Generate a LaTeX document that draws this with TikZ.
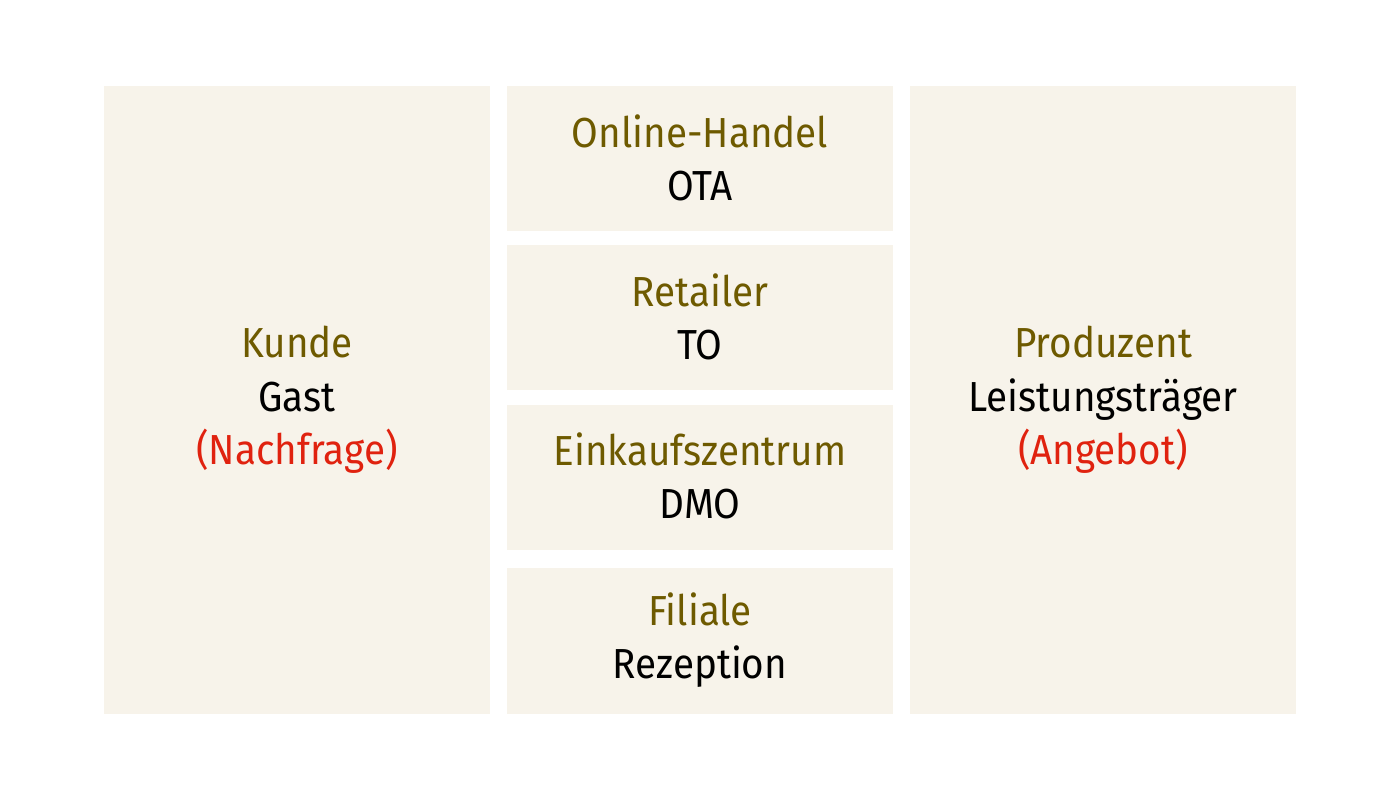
\documentclass[tikz,border=0pt]{standalone}
\usepackage{fontspec}
\setmainfont[FakeStretch=0.92]{Fira Sans}
\definecolor{boxfill}{HTML}{F7F3EA}
\definecolor{olive}{HTML}{6E5A00}
\definecolor{redtxt}{HTML}{E0220F}
\tikzset{
  panel/.style={fill=boxfill, draw=none},
  lbl/.style={align=center, font=\fontsize{42}{53.5}\selectfont, text=black, inner sep=0pt},
}
\newcommand{\ol}[1]{\textcolor{olive}{#1}}
\newcommand{\rd}[1]{\textcolor{redtxt}{#1}}
\begin{document}
\begin{tikzpicture}[x=1pt,y=-1pt]
\useasboundingbox (0,0) rectangle (1400,800);
\fill[white] (0,0) rectangle (1400,800);
\path[panel] (104,86) rectangle (490,714);
\path[panel] (910,86) rectangle (1296,714);
\path[panel] (507,86) rectangle (893,231);
\path[panel] (507,245) rectangle (893,390);
\path[panel] (507,405) rectangle (893,550);
\path[panel] (507,568) rectangle (893,714);
\node[lbl] (kunde) at (297,400) {\ol{Kunde}\\Gast\\\rd{(Nachfrage)}};
\node[lbl] (prod) at (1103,400) {\ol{Produzent}\\Leistungsträger\\\rd{(Angebot)}};
\node[lbl] (ota) at (700,158) {\ol{Online-Handel}\\OTA};
\node[lbl] (to) at (700,317) {\ol{Retailer}\\TO};
\node[lbl] (dmo) at (700,476) {\ol{Einkaufszentrum}\\DMO};
\node[lbl] (fil) at (700,640) {\ol{Filiale}\\Rezeption};
\end{tikzpicture}
\end{document}
